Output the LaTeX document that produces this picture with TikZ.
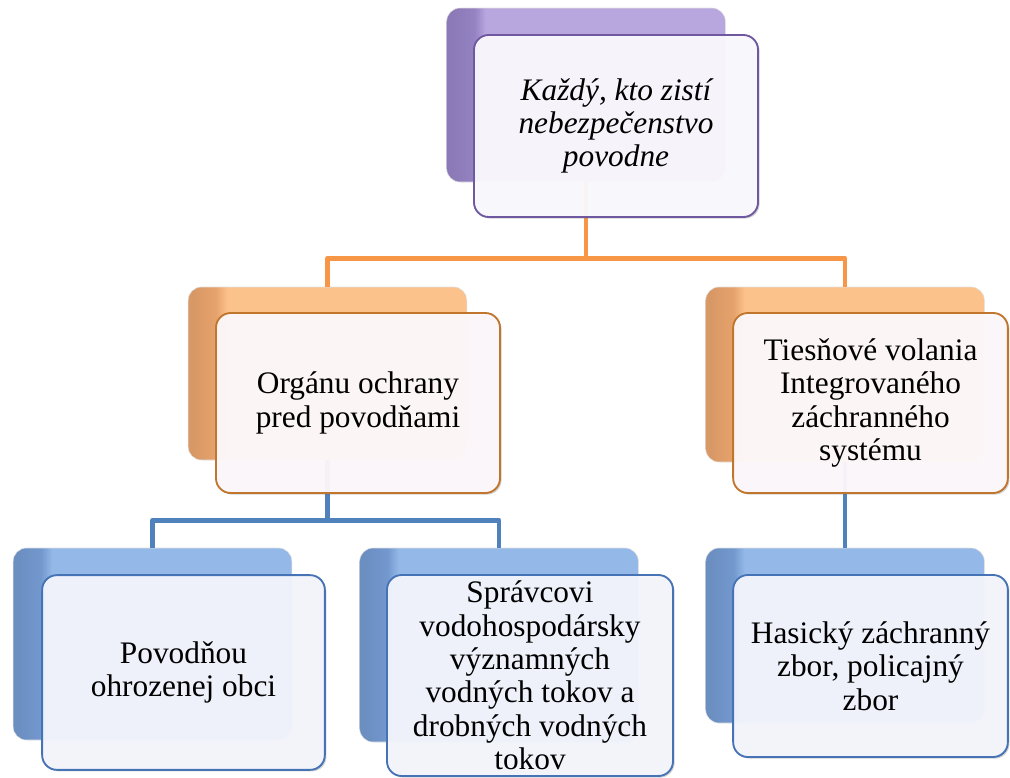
\documentclass[tikz,border=0pt]{standalone}
\usepackage{fontspec}
\setmainfont{Liberation Serif}
\usetikzlibrary{positioning,shadows}

\definecolor{purpleL}{HTML}{B8A6DF}
\definecolor{purpleD}{HTML}{9482C2}
\definecolor{purpleE}{HTML}{6F58A0}
\definecolor{purpleF}{HTML}{FCFBFF}
\definecolor{orangeL}{HTML}{FCC28C}
\definecolor{orangeD}{HTML}{E6A26C}
\definecolor{orangeE}{HTML}{C0762C}
\definecolor{orangeF}{HTML}{FFFAFD}
\definecolor{blueL}{HTML}{94B8E7}
\definecolor{blueD}{HTML}{7398CE}
\definecolor{blueE}{HTML}{4673B5}
\definecolor{blueF}{HTML}{F5F7FE}
\definecolor{orangeline}{HTML}{F79646}
\definecolor{blueline}{HTML}{4F81BD}

\pgfdeclarehorizontalshading{purplebevel}{100bp}{color(0bp)=(purpleD); color(26bp)=(purpleD!94!black); color(30bp)=(purpleD); color(32bp)=(purpleL); color(100bp)=(purpleL)}
\pgfdeclarehorizontalshading{orangebevel}{100bp}{color(0bp)=(orangeD); color(26bp)=(orangeD!94!black); color(30bp)=(orangeD); color(32bp)=(orangeL); color(100bp)=(orangeL)}
\pgfdeclarehorizontalshading{bluebevel}{100bp}{color(0bp)=(blueD); color(26bp)=(blueD!94!black); color(30bp)=(blueD); color(32bp)=(blueL); color(100bp)=(blueL)}

\begin{document}
\begin{tikzpicture}[
  x=0.75pt, y=-0.75pt,
  every node/.style = {font=\fontsize{23.5}{25}\selectfont, align=center},
  backbox/.style = {rectangle, rounded corners=10pt, inner sep=0pt, minimum width=209pt, draw=black!12, line width=0.4pt},
  frontbox/.style = {rectangle, rounded corners=11pt, inner xsep=4pt, inner ysep=0pt, line width=1.4pt, fill opacity=0.94, text opacity=1,
    drop shadow={shadow xshift=1.2pt, shadow yshift=-1.2pt, opacity=0.3, fill=black!60}},
  purpleback/.style = {backbox, shading=purplebevel},
  orangeback/.style = {backbox, shading=orangebevel},
  blueback/.style = {backbox, shading=bluebevel},
  purplefront/.style = {frontbox, draw=purpleE, fill=purpleF},
  orangefront/.style = {frontbox, draw=orangeE, fill=orangeF},
  bluefront/.style = {frontbox, draw=blueE, fill=blueF},
  link/.style = {line width=3.6pt, line join=round}
  ]
	\useasboundingbox (0,0) rectangle (1010,778);

	\node[purpleback, minimum height=130.5pt] (kazdyB) at (586,95) {};
	\node[orangeback, minimum height=129.75pt] (organB) at (327.5,373.5) {};
	\node[orangeback, minimum height=131.25pt] (tiesB) at (845,374.5) {};
	\node[blueback, minimum height=144pt] (obecB) at (152.5,644) {};
	\node[blueback, minimum height=145.5pt] (spravcaB) at (499,645) {};
	\node[blueback, minimum height=131.25pt] (hasiciB) at (845,635.5) {};

	\draw[link, orangeline] (kazdyB.south) -- ++(0,76) -| (organB.north);
	\draw[link, orangeline] (kazdyB.south) -- ++(0,76) -| (tiesB.north);
	\draw[link, blueline] (organB.south) -- ++(0,60) -| (obecB.north);
	\draw[link, blueline] (organB.south) -- ++(0,60) -| (spravcaB.north);
	\draw[link, blueline] (tiesB.south) -- (hasiciB.north);

	\node[purplefront, minimum width=213pt, minimum height=136.5pt] (kazdy) at (616,126)
		{\itshape Každý, kto zistí\\ \itshape nebezpečenstvo\\ \itshape povodne};
	\node[orangefront, minimum width=213pt, minimum height=135pt] (organ) at (358,403)
		{Orgánu ochrany\\ pred povodňami};
	\node[orangefront, minimum width=206pt, minimum height=135pt] (ties) at (870.5,403)
		{Tiesňové volania\\ Integrovaného\\ záchranného\\ systému};
	\node[bluefront, minimum width=212pt, minimum height=146pt] (obec) at (183.5,672.5)
		{Povodňou\\ ohrozenej obci};
	\node[bluefront, minimum width=214.5pt, minimum height=150.75pt] (spravca) at (530,675.5)
		{Správcovi\\ vodohospodársky\\ významných\\ vodných tokov a\\ drobných vodných\\ tokov};
	\node[bluefront, minimum width=206pt, minimum height=136.5pt] (hasici) at (870.5,666)
		{Hasický záchranný\\ zbor, policajný\\ zbor};

\end{tikzpicture}
\end{document}
